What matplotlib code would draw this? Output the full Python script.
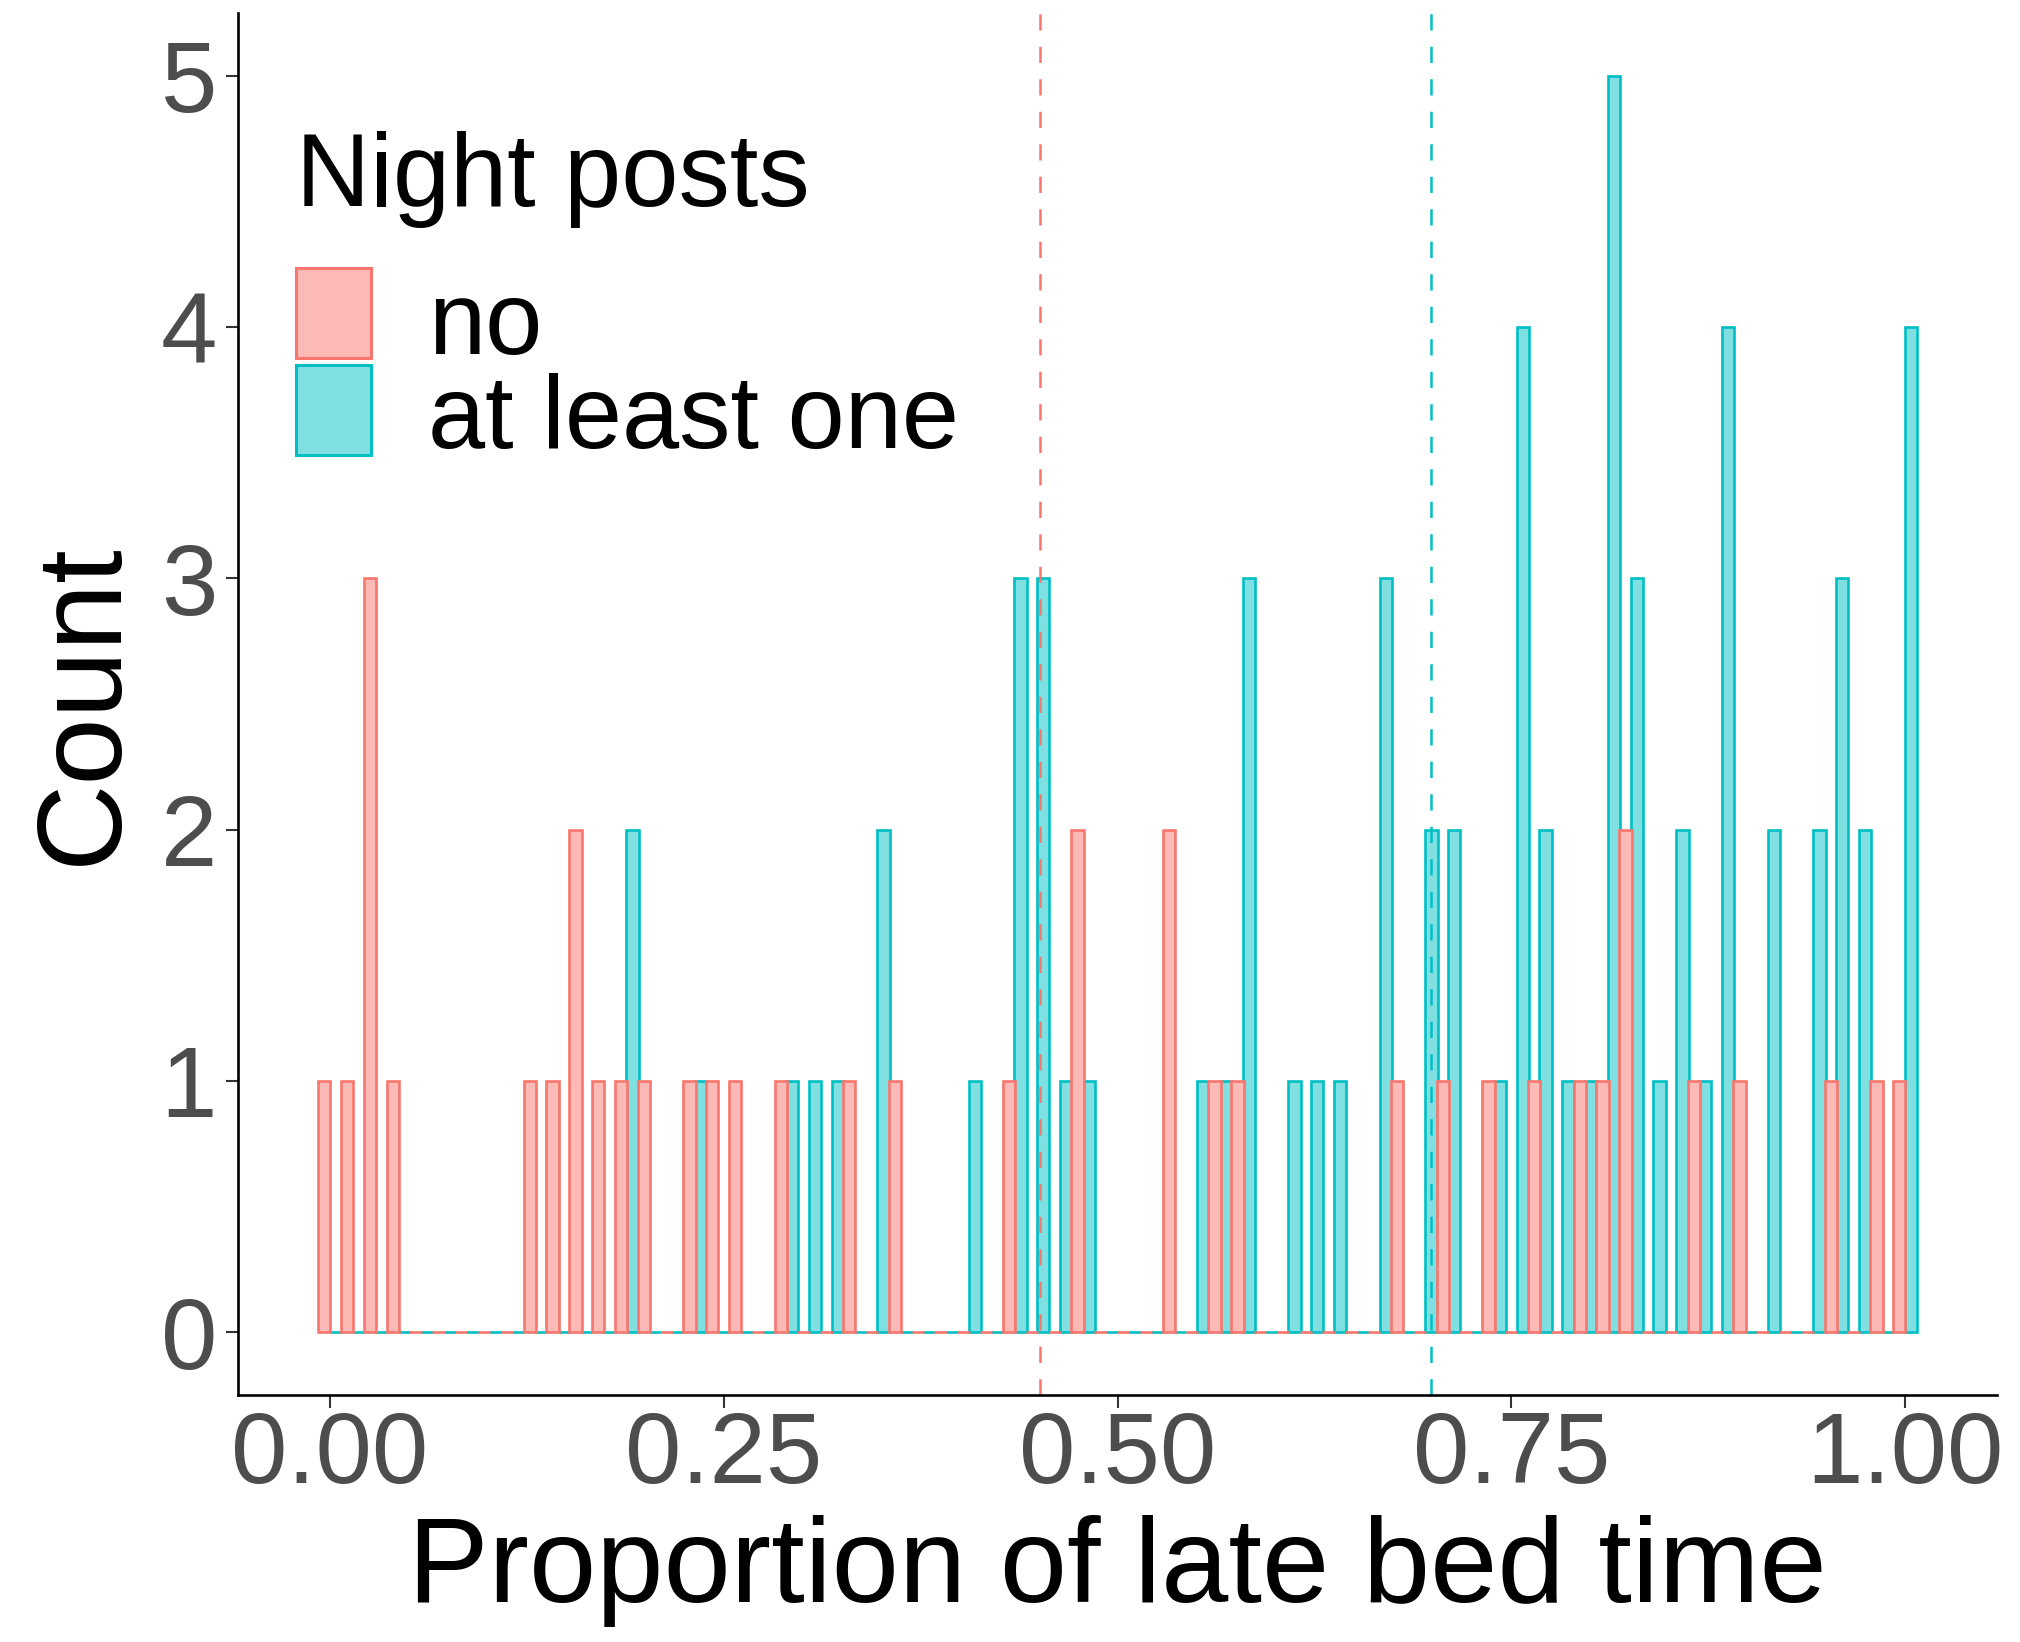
import numpy as np
import matplotlib
matplotlib.use("Agg")
import matplotlib.pyplot as plt
from matplotlib.patches import Rectangle

# histogram counts per bin (70 bins, centres at k/69)
red_counts = [1, 1, 3, 1, 0, 0, 0, 0, 0, 1,
              1, 2, 1, 1, 1, 0, 1, 1, 1, 0,
              1, 0, 0, 1, 0, 1, 0, 0, 0, 0,
              1, 0, 0, 2, 0, 0, 0, 2, 0, 1,
              1, 0, 0, 0, 0, 0, 0, 1, 0, 1,
              0, 1, 0, 1, 0, 1, 1, 2, 0, 0,
              1, 0, 1, 0, 0, 0, 1, 0, 1, 1]
teal_counts = [0, 0, 0, 0, 0, 0, 0, 0, 0, 0,
               0, 0, 0, 2, 0, 0, 1, 0, 0, 0,
               1, 1, 1, 0, 2, 0, 0, 0, 1, 0,
               3, 3, 1, 1, 0, 0, 0, 0, 1, 1,
               3, 0, 1, 1, 1, 0, 3, 0, 2, 2,
               0, 1, 4, 2, 1, 1, 5, 3, 1, 2,
               1, 4, 0, 2, 0, 2, 3, 2, 0, 4]
group_labels = ["no", "at least one"]
group_means = [0.451, 0.699]
x_ticks = [0.0, 0.25, 0.5, 0.75, 1.0]
x_ticklabels = ["0.00", "0.25", "0.50", "0.75", "1.00"]

RED, TEAL = "#F8766D", "#00BFC4"
RED_FILL, TEAL_FILL = "#FBBAB6", "#7FDFE1"
FONT = "Liberation Sans"

W, H = 2020, 1642
fig = plt.figure(figsize=(W / 100, H / 100), dpi=100)
ax = fig.add_axes([238 / W, 1 - 1395 / H, (1997 - 238) / W, (1395 - 13) / H])

nbins = len(red_counts)
binw = 1 / (nbins - 1)
centres = np.arange(nbins) * binw
barw = 0.54 * binw

# teal first, red drawn on top (as in the original)
ax.bar(centres + binw / 4, teal_counts, width=barw, color=TEAL_FILL,
       edgecolor=TEAL, linewidth=1.9)
ax.bar(centres - binw / 4, red_counts, width=barw, color=RED_FILL,
       edgecolor=RED, linewidth=1.9)

for m, c in zip(group_means, [RED, TEAL]):
    ax.axvline(m, color=c, lw=1.8, linestyle=(0, (6.5, 6.5)))

ax.set_xlim(-0.0584, 1.0584)
ax.set_ylim(-0.25, 5.25)
ax.set_xticks(x_ticks)
ax.set_xticklabels(x_ticklabels)
ax.set_yticks(range(6))

for s in ["top", "right"]:
    ax.spines[s].set_visible(False)
for s in ["left", "bottom"]:
    ax.spines[s].set_linewidth(1.9)
    ax.spines[s].set_color("black")

ax.tick_params(axis="both", length=9, width=1.5, color="#333333",
               labelcolor="#4D4D4D", labelsize=73)
ax.tick_params(axis="x", pad=2)
ax.tick_params(axis="y", pad=6)
for lab in ax.get_xticklabels() + ax.get_yticklabels():
    lab.set_family(FONT)

ax.set_xlabel("Proportion of late bed time", fontsize=87, family=FONT, labelpad=8)
ax.set_ylabel("Count", fontsize=87, family=FONT, labelpad=14)

# legend, built by hand to match the ggplot layout
def fx(px):
    return px / W

def fy(py):
    return 1 - py / H

fig.text(fx(296), fy(206), "Night posts", fontsize=74, family=FONT, va="baseline")
key_rows = [(268, 358, RED, RED_FILL, 354), (365, 455, TEAL, TEAL_FILL, 448)]
for (top, bot, ec, fc, base), lab in zip(key_rows, group_labels):
    fig.patches.append(Rectangle((fx(296), fy(bot)), fx(371) - fx(296), fy(top) - fy(bot),
                                 transform=fig.transFigure, facecolor=fc, edgecolor=ec,
                                 linewidth=2.2))
    fig.text(fx(428), fy(base), lab, fontsize=74, family=FONT, va="baseline")

fig.savefig("out.png", dpi=100)
